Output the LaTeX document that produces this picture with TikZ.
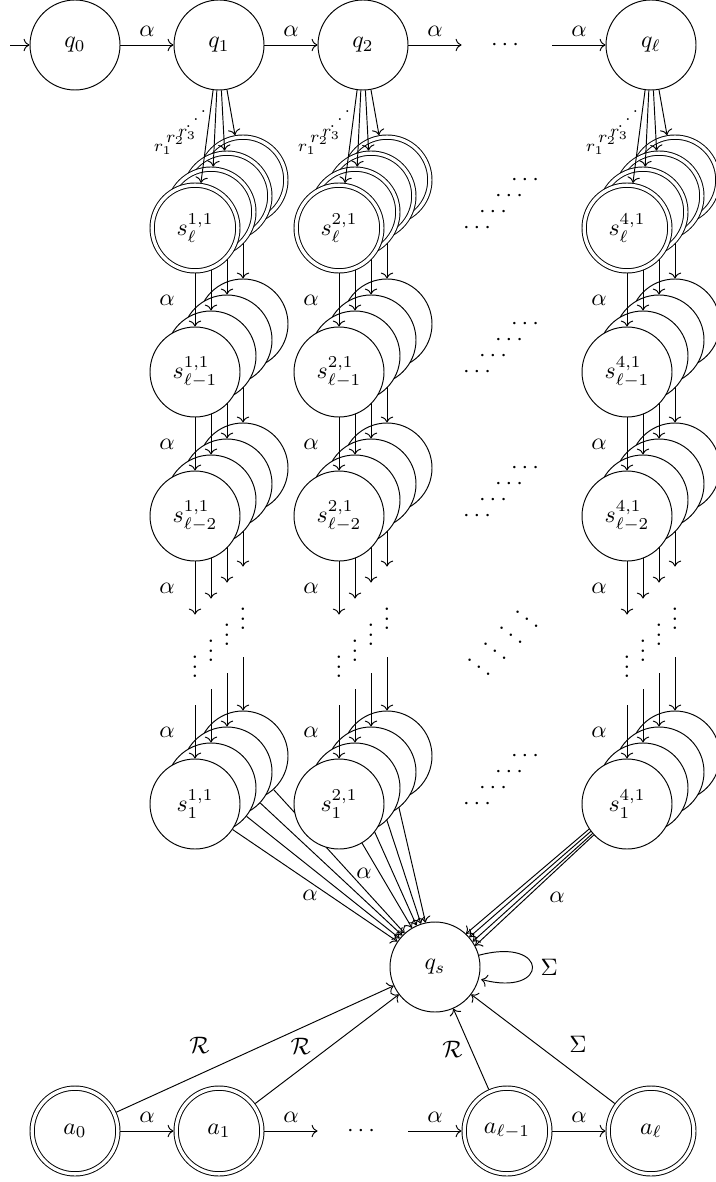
\documentclass[tikz,border=0pt]{standalone}
\usepackage{amsmath,amssymb}
\usepackage{graphicx}
\usetikzlibrary{arrows.meta,positioning}
\tikzset{
  x=0.42pt,
  y=0.42pt,
  >=To
}
\tikzset{state/.style={
    draw,
    circle,
    fill=white,
    minimum size=37.8pt,
    inner sep=0pt
  }}
\tikzset{accept/.style={
    state,
    double,
    double distance=1.4pt,
    minimum size=36pt,
    outer sep=1.1pt
  }}
\tikzset{ghost/.style={
    circle,
    minimum size=37.8pt,
    inner sep=0pt
  }}
\tikzset{rlbl/.style={font=\scriptsize}}
\newcommand{\revddots}{\reflectbox{$\ddots$}}

\begin{document}
\begin{tikzpicture}
  \useasboundingbox (0,0) rectangle (715,-1182);

  % top row
  \node (q0)    [state] at (75,-45)  {$q_0$};
  \node (q1)    [state] at (219,-45) {$q_1$};
  \node (q2)    [state] at (363,-45) {$q_2$};
  \node (qdots) [ghost] at (507,-45) {$\cdots$};
  \node (ql)    [state] at (651,-45) {$q_\ell$};
  \coordinate (init) at (10,-45);

  \draw [->] (init) -- (q0);
  \draw [->] (q0) -- node [above] {$\alpha$} (q1);
  \draw [->] (q1) -- node [above] {$\alpha$} (q2);
  \draw [->] (q2) -- node [above] {$\alpha$} (qdots);
  \draw [->] (qdots) -- node [above] {$\alpha$} (ql);

  % sink
  \node (qs) [state] at (435,-967) {$q_s$};
  \draw [->] (qs) edge [loop right] node {$\Sigma$} (qs);

  % back copies of the chains
  \foreach \kk/\ps/\xs/\rl in {3/0.49/-14.7/\revddots,2/0.73/-15.4/$r_3$,1/0.65/-16.5/$r_2$} {
    \foreach \col/\x/\q/\ta/\td in {1/219/q1/145.8/-4.5,2/363/q2/120.5/-5.9,4/651/ql/28/6.5} {
      \node (s-\col-0-\kk) [accept] at (\x-24+16*\kk,-228+16*\kk) {};
      \node (s-\col-1-\kk) [state]  at (\x-24+16*\kk,-372+16*\kk) {};
      \node (s-\col-2-\kk) [state]  at (\x-24+16*\kk,-516+16*\kk) {};
      \node (s-\col-3-\kk) [ghost]  at (\x-24+16*\kk,-660+16*\kk) {$\vdots$};
      \node (s-\col-4-\kk) [state]  at (\x-24+16*\kk,-804+16*\kk) {};
      \draw [->] (\q) -- node [rlbl,pos=\ps,xshift=\xs pt] {\rl} (s-\col-0-\kk);
      \draw [->] (s-\col-0-\kk) -- (s-\col-1-\kk);
      \draw [->] (s-\col-1-\kk) -- (s-\col-2-\kk);
      \draw [->] (s-\col-2-\kk) -- (s-\col-3-\kk);
      \draw [->] (s-\col-3-\kk) -- (s-\col-4-\kk);
      \draw [->] (s-\col-4-\kk) -- (qs.{\ta+\td*\kk});
    }
  }

  % front copies
  \foreach \col/\x/\q in {1/219/q1,2/363/q2,4/651/ql} {
    \node (s-\col-0-0) [accept] at (\x-24,-228) {$s_\ell^{\col,1}$};
    \node (s-\col-1-0) [state]  at (\x-24,-372) {$s_{\ell-1}^{\col,1}$};
    \node (s-\col-2-0) [state]  at (\x-24,-516) {$s_{\ell-2}^{\col,1}$};
    \node (s-\col-3-0) [ghost]  at (\x-24,-660) {$\vdots$};
    \node (s-\col-4-0) [state]  at (\x-24,-804) {$s_1^{\col,1}$};
    \draw [->] (\q) -- node [rlbl,pos=0.64,xshift=-17.8pt] {$r_1$} (s-\col-0-0);
    \draw [->] (s-\col-0-0) -- node [left=5pt] {$\alpha$} (s-\col-1-0);
    \draw [->] (s-\col-1-0) -- node [left=5pt] {$\alpha$} (s-\col-2-0);
    \draw [->] (s-\col-2-0) -- node [left=5pt] {$\alpha$} (s-\col-3-0);
    \draw [->] (s-\col-3-0) -- node [left=5pt] {$\alpha$} (s-\col-4-0);
  }
  \draw [->] (s-1-4-0) -- node [pos=0.47,below] {$\alpha$} (qs);
  \draw [->] (s-2-4-0) -- node [pos=0.36,left] {$\alpha$} (qs);
  \draw [->] (s-4-4-0) -- node [pos=0.445,below right] {$\alpha$} (qs.28);

  % the omitted chains
  \foreach \kk in {3,2,1,0} {
    \node (d-0-\kk) [ghost] at (479+16*\kk,-228+16*\kk) {$\cdots$};
    \node (d-1-\kk) [ghost] at (479+16*\kk,-372+16*\kk) {$\cdots$};
    \node (d-2-\kk) [ghost] at (479+16*\kk,-516+16*\kk) {$\cdots$};
    \node (d-3-\kk) [ghost] at (479+16*\kk,-660+16*\kk) {$\ddots$};
    \node (d-4-\kk) [ghost] at (479+16*\kk,-804+16*\kk) {$\cdots$};
  }

  % bottom row
  \node (a0)    [accept] at (75,-1131)  {$a_0$};
  \node (a1)    [accept] at (219,-1131) {$a_1$};
  \node (adots) [ghost]  at (363,-1131) {$\cdots$};
  \node (al1)   [accept] at (507,-1131) {$a_{\ell-1}$};
  \node (al)    [accept] at (651,-1131) {$a_\ell$};

  \draw [->] (a0) -- node [above] {$\alpha$} (a1);
  \draw [->] (a1) -- node [above] {$\alpha$} (adots);
  \draw [->] (adots) -- node [above] {$\alpha$} (al1);
  \draw [->] (al1) -- node [above] {$\alpha$} (al);

  \draw [->] (a0)  -- node [pos=0.3,above=5pt]   {$\mathcal{R}$} (qs);
  \draw [->] (a1)  -- node [pos=0.52,left=4.5pt] {$\mathcal{R}$} (qs);
  \draw [->] (al1) -- node [pos=0.5,left]        {$\mathcal{R}$} (qs);
  \draw [->] (al)  -- node [pos=0.54,right=10pt] {$\Sigma$} (qs);
\end{tikzpicture}
\end{document}
